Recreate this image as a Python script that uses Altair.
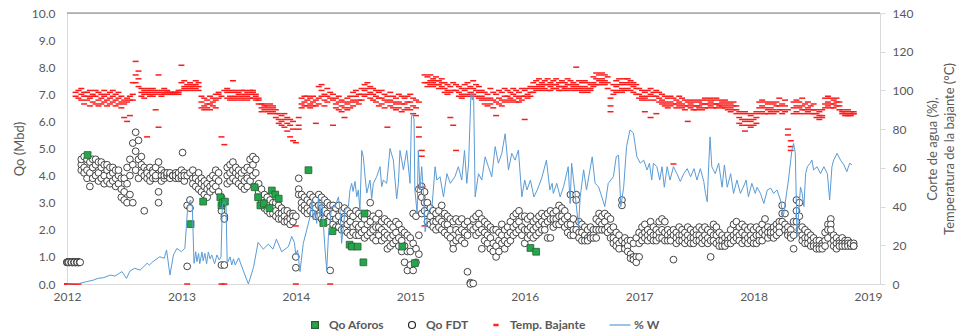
import altair as alt
import pandas as pd

STEP = 0.025  # sampling grid of the daily reports (years)

# ---------------- Qo FDT (Mbd): three readings per grid step ----------------
fdt_2012 = [(0.8,0.8,0.8),(0.8,0.8,0.8),(0.8,0.8,0.8),(0.8,0.8,0.8),(0.8,0.8,0.8),
            (4.4,4.6,4.2),(4.7,4.3,4.1),(4.6,4.2,3.9),(4.5,4.1,3.6),(4.6,4.3,3.9),
            (4.4,4.0,4.6),(4.5,4.1,3.8),(4.3,3.9,4.5),(4.4,4.0,3.7),(4.2,3.8,4.4),
            (4.3,4.0,3.7),(4.1,3.8,4.3),(4.2,3.9,3.6),(4.0,3.7,4.2),(3.9,3.5,3.2),
            (3.9,3.4,3.1),(4.3,3.7,3.0),(4.6,4.0,3.3),(5.2,4.4,3.0),(5.6,4.9,4.2),
            (5.3,4.6,3.9),(4.7,4.1,4.4),(4.3,4.0,2.7),(4.2,3.9,4.1),(4.3,4.0,3.8),
            (4.2,4.1,3.9),(4.3,3.9,4.0),(4.5,3.4,3.0),(4.2,4.0,3.8),(4.1,3.9,4.0),
            (4.0,4.0,4.1),(4.0,3.9,4.1),(4.0,4.0,4.0),(4.1,3.9,4.0),(4.0,4.1,3.9)]
fdt_2013 = [(4.2,3.9,4.0),(4.1,3.8,4.0),(4.0,2.9,0.65),(3.1,2.8,4.1),(4.2,3.9,3.7),
            (4.0,3.6,3.9),(4.1,3.5,3.8),(3.9,3.4,3.7),(3.8,3.3,3.6),(3.7,3.2,3.5),
            (3.9,3.6,3.4),(4.0,3.7,3.5),(4.2,3.9,3.6),(4.1,3.8,3.4),(3.2,2.7,0.7),
            (2.5,2.4,0.7),(4.3,4.0,3.7),(4.4,4.1,3.8),(4.2,3.9,4.5),(4.1,3.8,4.3),
            (4.0,3.7,4.2),(3.9,3.6,4.1),(3.8,3.5,4.2),(4.3,3.9,3.6),(4.6,4.2,3.8),
            (4.7,4.4,4.0),(4.6,4.1,3.6),(3.7,3.4,3.2),(3.5,3.1,2.9),(3.3,3.0,2.8),
            (3.2,2.9,2.7),(3.1,2.8,2.6),(3.0,2.8,2.6),(3.0,2.7,2.5),(2.9,2.6,2.4),
            (2.8,2.6,2.4),(2.7,2.5,2.3),(2.7,2.4,2.3),(2.6,2.4,2.2),(2.6,2.5,2.3)]
fdt_2014 = [(1.0,0.6,2.5),(3.9,3.5,3.3),(3.3,3.0,2.8),(3.2,2.9,2.7),(3.1,2.8,2.6),
            (3.3,3.0,2.7),(3.2,2.9,2.6),(3.1,2.8,2.5),(3.3,2.9,2.5),(3.2,2.8,2.4),
            (3.1,2.7,2.4),(3.0,2.6,2.3),(2.9,0.5,2.5),(2.9,2.6,2.2),(2.8,2.4,2.1),
            (2.9,2.5,2.1),(2.7,2.3,2.0),(2.8,2.4,2.0),(2.7,2.2,1.9),(2.6,2.3,1.8),
            (2.5,2.1,1.9),(2.7,2.2,1.8),(2.6,2.1,1.8),(2.5,2.2,1.9),(2.4,2.0,1.7),
            (2.6,2.2,1.8),(3.0,2.3,1.9),(2.5,2.0,1.7),(2.4,2.1,1.6),(2.6,2.1,1.8),
            (2.3,2.0,1.6),(2.4,1.9,1.7),(2.3,1.8,1.3),(2.2,1.7,1.4),(2.1,1.8,1.5),
            (2.3,1.9,1.6),(2.2,1.7,1.4),(2.0,1.6,1.2),(1.9,1.4,0.8),(1.8,1.2,0.5)]
fdt_2015 = [(1.7,1.2,0.7),(2.6,1.5,0.5),(2.5,1.3,0.8),(3.5,1.8,1.1),(3.6,3.2,2.6),
            (3.4,3.0,2.7),(3.0,2.6,2.3),(2.8,2.5,2.2),(2.7,2.3,2.1),(2.6,2.3,2.0),
            (2.7,2.4,2.1),(2.9,2.3,2.0),(2.6,2.2,1.9),(2.5,2.2,1.8),(2.4,2.0,1.7),
            (2.3,1.5,1.3),(2.4,2.0,1.6),(2.3,1.9,1.7),(2.4,2.0,1.6),(2.2,1.9,1.5),
            (2.3,1.8,0.45),(2.1,0.05,0.0),(2.4,2.0,0.02),(2.5,2.1,1.8),(2.6,2.2,1.9),
            (2.4,2.0,1.3),(2.3,1.9,1.6),(2.2,1.8,1.5),(2.1,1.7,1.3),(2.0,1.5,1.2),
            (2.0,1.4,1.0),(1.9,1.6,1.2),(2.2,1.8,1.5),(2.0,1.6,1.3),(2.1,1.8,1.5),
            (2.3,1.9,1.6),(2.5,2.1,1.8),(2.6,2.2,1.9),(2.7,2.3,2.0),(2.5,2.1,1.8)]
fdt_2016 = [(2.5,2.0,1.5),(2.4,2.0,1.7),(2.5,2.1,1.8),(2.3,2.0,1.7),(2.4,2.1,1.8),
            (2.5,2.2,1.9),(2.6,2.3,2.0),(2.5,2.2,2.0),(2.6,2.3,1.7),(2.7,2.4,1.7),
            (2.6,2.4,2.1),(2.7,2.4,2.2),(2.9,2.5,2.2),(2.8,2.5,2.3),(2.7,2.4,2.1),
            (2.5,2.2,1.9),(3.3,2.2,1.8),(2.4,2.0,1.8),(3.3,3.1,2.0),(2.3,1.9,1.7),
            (2.2,1.9,1.6),(2.1,1.8,1.6),(2.0,1.7,1.6),(2.1,1.8,1.7),(2.0,1.8,1.7),
            (2.4,2.0,1.7),(2.6,2.3,2.0),(2.5,2.2,2.0),(2.6,2.3,2.0),(2.5,2.1,1.9),
            (2.4,2.0,1.7),(2.1,1.7,1.5),(1.9,1.6,1.4),(1.8,1.5,1.3),(3.1,2.9,1.6),
            (1.7,1.5,1.3),(1.6,1.4,1.2),(1.1,0.95,1.6),(1.0,0.9,1.5),(1.0,0.8,1.7)]
fdt_2017 = [(1.9,1.5,1.0),(2.1,1.8,1.6),(2.2,1.9,1.7),(2.0,1.8,1.6),(2.3,1.9,1.7),
            (2.1,1.8,1.6),(2.0,1.8,1.6),(2.3,1.9,1.7),(2.4,2.0,1.7),(2.3,1.9,1.6),
            (2.0,1.8,1.6),(1.9,1.7,1.6),(2.0,1.8,0.9),(1.9,1.7,1.5),(2.1,1.8,1.6),
            (2.0,1.8,1.6),(1.9,1.7,1.5),(2.1,1.8,1.6),(2.0,1.7,1.5),(1.9,1.7,1.5),
            (2.0,1.8,1.6),(2.1,1.8,1.6),(2.0,1.7,1.5),(2.1,1.8,1.6),(2.0,1.7,1.5),
            (1.9,1.6,1.0),(2.2,1.8,1.6),(2.1,1.8,1.5),(1.9,1.6,1.4),(1.8,1.6,1.4),
            (1.7,1.5,1.4),(1.8,1.6,1.5),(2.0,1.7,1.5),(2.2,1.8,1.6),(2.3,1.9,1.7),
            (2.1,1.8,1.6),(2.2,1.9,1.5),(2.1,1.8,1.6),(2.0,1.7,1.5),(2.1,1.8,1.6)]
fdt_2018 = [(2.0,1.7,1.5),(2.1,1.8,1.5),(2.0,1.8,1.6),(2.2,1.9,1.6),(2.4,2.0,1.8),
            (2.1,1.9,1.7),(2.0,1.8,1.9),(2.1,1.9,1.7),(2.2,2.0,1.8),(2.3,2.1,1.9),
            (2.9,2.6,2.3),(2.6,2.2,2.0),(2.1,1.9,1.8),(2.0,1.8,1.7),(1.8,1.3,2.3),
            (3.1,2.7,2.3),(3.0,2.5,2.0),(2.1,1.8,1.6),(2.0,1.7,1.5),(1.9,1.7,1.5),
            (1.8,1.6,1.4),(1.7,1.5,1.4),(1.6,1.4,1.3),(1.6,1.4,1.3),(1.5,1.4,1.3),
            (1.9,1.6,1.4),(2.2,2.0,1.7),(2.4,2.2,2.0),(1.8,1.6,1.4),(1.7,1.5,1.3),
            (1.6,1.5,1.4),(1.7,1.5,1.4),(1.6,1.5,1.4),(1.6,1.5,1.4),(1.5,1.4,1.5),
            (1.5,1.4,1.4)]
# early-2012 readings stuck at 0.8 (dense blob) and a lone high reading
fdt_extra_t = [2012.008, 2012.015, 2012.035, 2012.04, 2012.06, 2012.065, 2012.085,
               2012.09, 2012.11, 2012.115, 2013.01]
fdt_extra_q = [0.8, 0.8, 0.8, 0.8, 0.8, 0.8, 0.8, 0.8, 0.8, 0.8, 4.85]

# ---------------- Temp. Bajante (°C): three readings per grid step ----------------
temp_2012 = [(0,0,0),(0,0,0),(0,0,0),(0,97,99),(0,96,100),(98,95,101),(97,93,99),(99,95,97),
             (96,92,100),(98,94,97),(97,93,100),(99,95,92),(96,98,93),(97,94,100),(98,95,92),
             (96,99,93),(97,94,100),(95,98,92),(96,93,99),(94,97,91),(95,93,86),(96,94,84),
             (97,87,95),(104,98,95),(115,108,104),(110,106,102),(101,99,97),(100,98,96),
             (101,99,76),(100,98,97),(101,99,97),(100,98,90),(108,99,81),(100,98,97),
             (101,99,98),(100,98,99),(99,98,99),(98,99,98),(99,98,99),(98,99,100)]
temp_2013 = [(113,100,104),(101,105,102),(100,103,0),(101,104,102),(100,103,102),
             (103,101,105),(100,102,104),(97,94,91),(96,92,90),(95,91,93),(97,93,90),
             (96,92,94),(98,95,91),(99,96,98),(97,76,0),(100,72,0),(99,96,101),(100,97,95),
             (105,99,96),(100,97,95),(99,96,98),(100,97,95),(98,96,100),(99,97,95),
             (100,98,96),(99,96,100),(98,95,97),(96,93,95),(93,91,89),(92,90,93),(91,89,92),
             (93,90,88),(92,89,91),(90,88,86),(88,85,83),(87,84,82),(88,85,81),(86,83,79),
             (85,82,76),(84,80,74)]
temp_2014 = [(73,30,0),(86,82,80),(96,93,91),(97,94,92),(95,92,97),(96,93,91),(97,94,92),
             (95,92,83),(96,93,102),(100,97,103),(98,95,92),(101,97,94),(99,96,0),(98,95,82),
             (96,93,91),(97,94,90),(95,92,89),(94,91,86),(96,93,90),(97,94,91),(99,95,92),
             (100,97,94),(98,95,93),(101,98,95),(103,100,97),(104,101,98),(102,99,96),
             (101,98,95),(100,97,94),(99,96,92),(100,96,93),(98,95,91),(97,94,81),(99,95,92),
             (97,94,91),(96,93,90),(98,94,91),(97,93,89),(96,93,90),(97,94,91)]
temp_2015 = [(98,94,90),(96,92,88),(95,91,87),(94,81,76),(69,66,50),(108,104,30),(107,104,102),
             (108,105,103),(106,104,102),(107,105,103),(105,103,101),(106,104,102),(104,101,99),
             (103,100,98),(102,99,86),(104,100,82),(103,100,69),(102,99,97),(101,98,96),
             (103,100,97),(104,101,98),(102,99,97),(105,101,98),(103,100,97),(102,99,96),
             (100,97,95),(99,96,93),(98,95,92),(101,96,93),(99,95,91),(98,94,87),(100,96,93),
             (99,95,92),(101,97,94),(100,97,95),(99,96,94),(101,98,95),(100,97,94),(99,96,94),
             (101,97,95)]
temp_2016 = [(100,97,85),(101,98,96),(102,99,97),(104,101,99),(105,102,100),(106,103,101),
             (104,102,100),(105,103,101),(106,103,100),(104,102,100),(105,103,101),(106,103,101),
             (104,102,100),(105,102,100),(104,102,101),(106,103,100),(105,103,101),(104,102,100),
             (112,103,101),(105,102,100),(104,101,99),(105,102,100),(104,101,99),(103,101,100),
             (107,104,102),(109,106,103),(108,105,103),(109,106,104),(108,105,103),(107,104,101),
             (96,92,89),(103,100,98),(105,102,99),(106,103,100),(104,101,99),(106,103,100),
             (106,104,101),(105,103,100),(104,102,99),(103,101,98)]
temp_2017 = [(101,98,96),(100,97,95),(99,96,89),(100,97,95),(101,98,86),(99,97,95),(100,97,88),
             (99,96,94),(98,95,93),(97,94,92),(96,93,91),(97,94,92),(96,93,62),(95,93,91),
             (97,94,92),(96,93,91),(95,92,90),(94,92,84),(95,93,91),(94,92,90),(95,92,90),
             (94,92,91),(95,93,90),(96,93,91),(95,93,91),(96,94,92),(95,93,91),(96,93,91),
             (95,93,92),(94,92,91),(95,93,91),(94,92,90),(93,91,89),(94,92,90),(92,90,88),
             (89,86,83),(88,85,82),(89,84,79),(88,85,82),(87,84,81)]
temp_2018 = [(88,85,82),(89,86,83),(94,91,88),(95,92,89),(94,91,88),(93,90,88),(94,91,89),
             (93,90,88),(94,92,89),(96,92,90),(93,90,88),(95,92,89),(80,77,90),(74,71,69),
             (94,91,88),(95,92,89),(94,91,88),(96,92,90),(93,90,88),(94,91,89),(92,90,88),
             (93,90,88),(90,88,86),(89,87,85),(90,87,86),(96,93,91),(97,94,92),(96,93,91),
             (95,93,91),(96,94,92),(94,92,90),(90,89,88),(89,88,87),(90,88,87),(89,88,87),
             (89,88,88)]

# ---------------- Qo Aforos (Mbd) ----------------
aforos_t = [2012.18, 2013.08, 2013.19, 2013.34, 2013.35, 2013.36, 2013.38, 2013.64, 2013.67,
            2013.69, 2013.72, 2013.77, 2013.79, 2013.82, 2013.85, 2014.11, 2014.24, 2014.32,
            2014.47, 2014.49, 2014.54, 2014.59, 2014.60, 2014.93, 2015.04, 2016.05, 2016.10]
aforos_q = [4.76, 2.21, 3.04, 3.2, 2.9, 3.0, 3.04, 3.57, 3.2,
            2.9, 2.97, 2.8, 3.45, 3.3, 3.15, 4.2, 2.25, 1.95,
            1.45, 1.38, 1.38, 0.8, 2.6, 1.38, 0.77, 1.33, 1.19]

# ---------------- % W (corte de agua) ----------------
w_series = [(2012.00,0),(2012.11,0.3),(2012.17,1.2),(2012.23,2.0),(2012.27,2.9),(2012.32,3.3),(2012.38,4.6),
 (2012.42,4.1),(2012.48,6.4),(2012.52,2.9),(2012.55,6.7),(2012.59,8.1),(2012.64,7.2),(2012.70,10.7),
 (2012.72,9.8),(2012.75,11.5),(2012.81,14.1),(2012.85,13.3),(2012.87,17.6),(2012.90,4.6),(2012.93,15.0),
 (2012.96,18.4),(2013.00,16.7),(2013.03,18.4),(2013.055,39.9),(2013.07,42.5),(2013.08,43.4),(2013.095,40.0),
 (2013.11,10.7),(2013.125,16.7),(2013.135,11.5),(2013.15,15.8),(2013.16,10.5),(2013.18,16.5),(2013.19,12.0),
 (2013.205,15.8),(2013.22,10.5),(2013.235,16.5),(2013.25,13.0),(2013.265,15.0),(2013.29,10.5),(2013.31,15.0),
 (2013.33,12.5),(2013.346,14.0),(2013.358,41.6),(2013.375,42.5),(2013.39,40.0),(2013.40,10.7),(2013.425,14.0),
 (2013.44,9.8),(2013.455,13.0),(2013.47,9.8),(2013.50,13.5),(2013.54,7.0),(2013.585,0.0),(2013.63,8.6),
 (2013.67,21.5),(2013.715,18.0),(2013.76,20.6),(2013.80,18.0),(2013.83,23.2),(2013.876,16.7),(2013.935,19.3),
 (2013.964,24.6),(2013.987,21.5),(2014.00,15.0),(2014.015,17.6),(2014.036,6.4),(2014.065,21.0),(2014.095,27.9),
 (2014.124,34.8),(2014.14,43.4),(2014.153,33.0),(2014.168,38.2),(2014.182,31.3),(2014.197,45.1),(2014.211,34.8),
 (2014.226,44.2),(2014.24,31.3),(2014.255,17.6),(2014.27,7.2),(2014.284,24.4),(2014.313,39.9),(2014.342,39.9),
 (2014.372,45.0),(2014.386,38.0),(2014.40,21.0),(2014.43,38.0),(2014.459,40.0),(2014.473,48.6),(2014.488,52.0),
 (2014.50,47.8),(2014.517,53.0),(2014.532,45.0),(2014.546,48.6),(2014.56,38.0),(2014.576,69.0),(2014.59,65.5),
 (2014.605,55.4),(2014.62,47.0),(2014.648,53.7),(2014.663,44.2),(2014.677,52.0),(2014.706,55.4),(2014.736,60.6),
 (2014.75,50.3),(2014.765,53.7),(2014.794,52.0),(2014.823,70.0),(2014.852,64.0),(2014.881,44.0),(2014.896,52.0),
 (2014.91,69.0),(2014.94,59.0),(2014.969,69.0),(2014.998,52.0),(2015.01,86.4),(2015.02,88.0),(2015.033,85.0),
 (2015.04,48.6),(2015.06,36.5),(2015.07,69.0),(2015.085,48.6),(2015.10,60.6),(2015.115,47.0),(2015.13,27.0),
 (2015.16,38.0),(2015.19,40.0),(2015.217,60.6),(2015.232,53.7),(2015.26,55.4),(2015.29,45.0),(2015.32,57.0),
 (2015.35,52.0),(2015.39,55.4),(2015.42,60.6),(2015.45,53.7),(2015.474,69.0),(2015.494,52.0),(2015.51,62.4),
 (2015.53,98.5),(2015.542,95.0),(2015.553,99.4),(2015.567,45.0),(2015.596,57.0),(2015.625,53.7),(2015.654,65.7),
 (2015.683,60.6),(2015.712,55.4),(2015.742,71.0),(2015.77,62.4),(2015.80,67.5),(2015.829,77.6),(2015.858,58.9),
 (2015.887,67.5),(2015.916,64.0),(2015.945,69.2),(2015.975,45.0),(2016.00,53.7),(2016.02,48.6),(2016.05,53.7),
 (2016.08,45.0),(2016.11,48.6),(2016.15,55.0),(2016.19,64.0),(2016.22,48.6),(2016.24,52.0),(2016.25,46.8),
 (2016.28,52.0),(2016.31,45.0),(2016.34,50.3),(2016.38,60.6),(2016.397,41.6),(2016.41,62.4),(2016.44,46.8),
 (2016.47,29.6),(2016.485,45.0),(2016.515,59.0),(2016.54,48.6),(2016.59,65.7),(2016.615,52.0),(2016.645,50.3),
 (2016.674,45.0),(2016.70,40.0),(2016.73,52.0),(2016.775,55.4),(2016.80,65.8),(2016.82,66.5),(2016.84,40.0),
 (2016.865,50.0),(2016.89,71.0),(2016.92,79.6),(2016.95,78.0),(2016.98,65.8),(2017.01,62.4),(2017.04,64.0),
 (2017.07,58.9),(2017.09,62.4),(2017.11,53.7),(2017.125,62.4),(2017.155,60.6),(2017.18,53.7),(2017.20,60.6),
 (2017.22,50.0),(2017.245,60.6),(2017.27,53.7),(2017.30,60.6),(2017.33,57.0),(2017.36,53.0),(2017.39,57.0),
 (2017.42,59.6),(2017.45,55.4),(2017.48,59.6),(2017.505,53.7),(2017.535,59.6),(2017.565,52.9),(2017.58,46.8),
 (2017.595,42.5),(2017.61,64.0),(2017.62,76.0),(2017.635,60.6),(2017.665,57.0),(2017.695,62.4),(2017.725,50.0),
 (2017.745,61.5),(2017.77,50.0),(2017.80,57.0),(2017.825,46.8),(2017.855,53.7),(2017.885,46.8),(2017.91,50.0),
 (2017.935,53.7),(2017.955,45.0),(2017.985,52.0),(2018.015,46.8),(2018.03,50.0),(2018.06,46.8),(2018.09,41.6),
 (2018.12,48.6),(2018.15,49.5),(2018.175,46.8),(2018.205,48.6),(2018.235,43.4),(2018.26,34.7),(2018.28,43.4),
 (2018.305,53.7),(2018.335,69.2),(2018.35,72.6),(2018.365,67.5),(2018.38,24.4),(2018.41,50.0),(2018.425,46.8),
 (2018.44,40.0),(2018.455,57.0),(2018.47,60.6),(2018.495,62.4),(2018.51,64.0),(2018.525,58.9),(2018.555,60.6),
 (2018.585,57.0),(2018.615,60.6),(2018.645,57.0),(2018.665,43.4),(2018.685,60.6),(2018.70,64.0),(2018.73,67.5),
 (2018.76,64.0),(2018.79,61.5),(2018.815,58.0),(2018.84,62.4),(2018.86,61.5)]

legend_names = ["Qo Aforos", "Qo FDT", "Temp. Bajante", "% W"]
years = [2012, 2013, 2014, 2015, 2016, 2017, 2018]
x_ticks = [2012, 2013, 2014, 2015, 2016, 2017, 2018, 2019]
left_ticks = [0, 1, 2, 3, 4, 5, 6, 7, 8, 9, 10]
right_ticks = [0, 20, 40, 60, 80, 100, 120, 140]

# ---------------- tables ----------------
def grid_table(blocks, col):
    rows = []
    for year, seq in zip(years, blocks):
        for k, tri in enumerate(seq):
            for v in tri:
                rows.append({"t": round(year + k * STEP, 4), col: v})
    return pd.DataFrame(rows)

fdt_df = grid_table([fdt_2012, fdt_2013, fdt_2014, fdt_2015, fdt_2016, fdt_2017, fdt_2018], "q")
fdt_df = pd.concat([fdt_df, pd.DataFrame({"t": fdt_extra_t, "q": fdt_extra_q})], ignore_index=True)
temp_df = grid_table([temp_2012, temp_2013, temp_2014, temp_2015, temp_2016, temp_2017, temp_2018], "v")
aforos_df = pd.DataFrame({"t": aforos_t, "q": aforos_q})
w_df = pd.DataFrame(w_series, columns=["t", "v"])
legend_df = pd.DataFrame({"t": [2030.0] * 4, "q": [5.0] * 4, "name": legend_names})

GRAY = "#595959"
LIGHT = "#D9D9D9"
FONT = "Lato"

X = alt.X("t:Q",
          scale=alt.Scale(domain=[2012, 2019.105], nice=False, zero=False),
          axis=alt.Axis(values=x_ticks, format="d", title=None, grid=False, ticks=False,
                        domainColor=LIGHT, labelPadding=7, labelFontSize=12, labelColor=GRAY,
                        labelFlush=False, labelOverlap=False, labelFont=FONT))

YL = alt.Y("q:Q",
           scale=alt.Scale(domain=[0, 10], nice=False, zero=True),
           axis=alt.Axis(values=left_ticks, format=".1f", title="Qo (Mbd)", grid=False, ticks=False,
                         domainColor=LIGHT, labelPadding=12, labelFontSize=12, labelColor=GRAY,
                         labelFlush=False, labelOverlap=False, labelFont=FONT,
                         titleFontSize=13, titleColor=GRAY, titleFontWeight="normal",
                         titlePadding=5, titleFont=FONT))

YR = alt.Y("v:Q",
           scale=alt.Scale(domain=[0, 140], nice=False, zero=True),
           axis=alt.Axis(orient="right", values=right_ticks, format="d",
                         title=["Corte de agua (%),", "Temperatura de la bajante (°C)"],
                         grid=False, ticks=True, tickSize=5, tickColor=LIGHT, domainColor=LIGHT,
                         labelPadding=7, labelFontSize=12, labelColor=GRAY, labelFlush=False,
                         labelOverlap=False, labelFont=FONT,
                         titleFontSize=13, titleColor=GRAY, titleFontWeight="normal",
                         titlePadding=10, titleFont=FONT, titleAngle=270, titleLineHeight=17))

dash_path = "M-1,-0.25L1,-0.25L1,0.25L-1,0.25Z"

fdt_layer = alt.Chart(fdt_df).mark_point(
    shape="circle", filled=True, fill="white", stroke="#262626", strokeWidth=0.85,
    size=46, opacity=1).encode(x=X, y=YL)

aforos_layer = alt.Chart(aforos_df).mark_point(
    shape="square", filled=True, fill="#22A84B", stroke="#2B5E35", strokeWidth=0.8,
    size=46, opacity=1).encode(x=X, y=YL)

top_line = alt.Chart(pd.DataFrame({"a": [0]})).mark_rule(color="#7F7F7F", strokeWidth=1).encode(
    x=alt.value(0), x2=alt.value(813), y=alt.value(0))

leg = alt.Legend(title=None, orient="none", legendX=242, legendY=306, direction="horizontal",
                 columns=4, labelFontSize=12, labelFontWeight="bold", labelColor=GRAY,
                 labelFont=FONT, symbolSize=100, symbolStrokeWidth=1.2, labelOffset=8,
                 columnPadding=21, padding=0)
leg_fill = ["#22A84B", "#FFFFFF", "#FF1A1A", "transparent"]
leg_stroke = ["#2B5E35", "#262626", "#FF1A1A", "#5B9BD5"]
leg_shape = ["M-0.68,-0.68L0.68,-0.68L0.68,0.68L-0.68,0.68Z",
             "M0.7,0A0.7,0.7 0 1,1 -0.7,0A0.7,0.7 0 1,1 0.7,0Z",
             "M-0.4,-0.15L0.4,-0.15L0.4,0.15L-0.4,0.15Z",
             "M-2.1,0L2.1,0"]
legend_layer = alt.Chart(legend_df).mark_point(filled=True, opacity=1, clip=True, size=100).encode(
    x=X, y=YL,
    fill=alt.Fill("name:N", scale=alt.Scale(domain=legend_names, range=leg_fill), legend=leg),
    stroke=alt.Stroke("name:N", scale=alt.Scale(domain=legend_names, range=leg_stroke), legend=leg),
    shape=alt.Shape("name:N", scale=alt.Scale(domain=legend_names, range=leg_shape), legend=leg),
)

temp_layer = alt.Chart(temp_df).mark_point(
    shape=dash_path, filled=True, color="#FF1A1A", size=36, opacity=1, strokeWidth=0).encode(x=X, y=YR)

w_layer = alt.Chart(w_df).mark_line(color="#5B9BD5", strokeWidth=1).encode(x=X, y=YR)

left = alt.layer(fdt_layer, aforos_layer, top_line, legend_layer)
right = alt.layer(temp_layer, w_layer)

chart = alt.layer(left, right).resolve_scale(y="independent").properties(
    width=813, height=271,
    autosize=alt.AutoSizeParams(type="none"),
    padding={"left": 67, "top": 13, "right": 81, "bottom": 50},
).configure_view(stroke=None).configure(font=FONT)

chart.save("out.html", embed_options={"renderer": "svg", "actions": False})
